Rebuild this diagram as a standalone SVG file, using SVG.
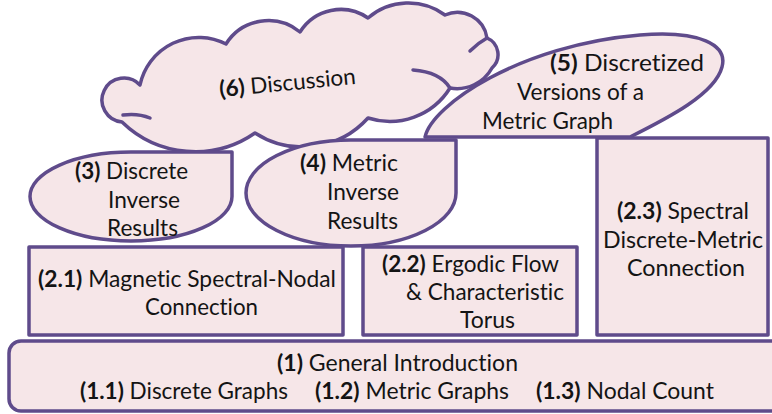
<svg xmlns="http://www.w3.org/2000/svg" width="772" height="414" viewBox="0 0 772 414">
<style>
.s{fill:#f6e6e8;stroke:#5f4b8b;stroke-width:3.5;stroke-linejoin:round}
.i{fill:none;stroke:#5f4b8b;stroke-width:3.5;stroke-linecap:round}
text{font-family:Lato,"Open Sans","Liberation Sans",sans-serif;font-size:22.5px;fill:#141414;font-variant-ligatures:none;font-feature-settings:"liga" 0,"clig" 0,"dlig" 0}
.b{font-weight:bold}
</style>
<rect width="772" height="414" fill="#ffffff"/>
<g id="connectors"></g>
<g id="n6">
<path class="s" d="M122,122 A22,22 0 1 1 140,85 A60,60 0 0 1 226,44 A50,50 0 0 1 300,32 A48,48 0 0 1 368,18 A62,62 0 0 1 445,15 A30,30 0 0 1 487,38 A18,18 0 0 1 492,68 A40,40 0 0 1 450,88 A71,71 0 0 1 368,118 A88,88 0 0 1 255,133 A105,105 0 0 1 122,122 Z"/>
<path class="i" d="M123,115 Q138,113 150,118"/>
<path class="i" d="M413,70 Q440,72 450,88"/>
<path class="i" d="M470,51 Q478,43 487,38"/>
<text transform="translate(220,97) rotate(-5.5)" textLength="137" lengthAdjust="spacingAndGlyphs"><tspan class="b">(6)</tspan> Discussion</text>
</g>
<g id="n5">
<path class="s" d="M425,137 C432,105 520,45 640,35 C700,30 728,45 722,67 C715,94 668,118 630,137 Z"/>
<text x="550" y="71" textLength="154" lengthAdjust="spacingAndGlyphs"><tspan class="b">(5)</tspan> Discretized</text>
<text x="517" y="100" textLength="127" lengthAdjust="spacingAndGlyphs">Versions of a</text>
<text x="482" y="129" textLength="131" lengthAdjust="spacingAndGlyphs">Metric Graph</text>
</g>
<g id="n3">
<path class="s" d="M30,196.5 A101,44.5 0 0 1 131,152 L232,152 L232,196.5 A101,44.5 0 0 1 131,241 A101,44.5 0 0 1 30,196.5 Z"/>
<text x="75" y="179" textLength="113" lengthAdjust="spacingAndGlyphs"><tspan class="b">(3)</tspan> Discrete</text>
<text x="108" y="208" textLength="72" lengthAdjust="spacingAndGlyphs">Inverse</text>
<text x="107" y="236" textLength="71" lengthAdjust="spacingAndGlyphs">Results</text>
</g>
<g id="n4">
<path class="s" d="M246,193 A105,53 0 0 1 351,140 L456,140 L456,193 A105,53 0 0 1 351,246 A105,53 0 0 1 246,193 Z"/>
<text x="300" y="171" textLength="98" lengthAdjust="spacingAndGlyphs"><tspan class="b">(4)</tspan> Metric</text>
<text x="327" y="200" textLength="72" lengthAdjust="spacingAndGlyphs">Inverse</text>
<text x="327" y="229" textLength="71" lengthAdjust="spacingAndGlyphs">Results</text>
</g>
<g id="n21">
<rect class="s" x="29" y="247" width="314" height="88"/>
<text x="38" y="287" textLength="298" lengthAdjust="spacingAndGlyphs"><tspan class="b">(2.1)</tspan> Magnetic Spectral-Nodal</text>
<text x="145" y="315" textLength="113" lengthAdjust="spacingAndGlyphs">Connection</text>
</g>
<g id="n22">
<rect class="s" x="363" y="247" width="214" height="88"/>
<text x="382" y="272" textLength="177" lengthAdjust="spacingAndGlyphs"><tspan class="b">(2.2)</tspan> Ergodic Flow</text>
<text x="406" y="300" textLength="158" lengthAdjust="spacingAndGlyphs">&amp; Characteristic</text>
<text x="460" y="328" textLength="55" lengthAdjust="spacingAndGlyphs">Torus</text>
</g>
<g id="n23">
<rect class="s" x="597" y="138" width="171" height="197"/>
<text x="617" y="219" textLength="132" lengthAdjust="spacingAndGlyphs"><tspan class="b">(2.3)</tspan> Spectral</text>
<text x="603" y="248" textLength="160" lengthAdjust="spacingAndGlyphs">Discrete-Metric</text>
<text x="627" y="276" textLength="118" lengthAdjust="spacingAndGlyphs">Connection</text>
</g>
<g id="n1">
<rect class="s" x="9" y="341" width="780" height="70" rx="12" ry="12"/>
<text x="277" y="371" textLength="241" lengthAdjust="spacingAndGlyphs"><tspan class="b">(1)</tspan> General Introduction</text>
<text x="80" y="399" textLength="208" lengthAdjust="spacingAndGlyphs"><tspan class="b">(1.1)</tspan> Discrete Graphs</text>
<text x="315" y="399" textLength="194" lengthAdjust="spacingAndGlyphs"><tspan class="b">(1.2)</tspan> Metric Graphs</text>
<text x="536" y="399" textLength="178" lengthAdjust="spacingAndGlyphs"><tspan class="b">(1.3)</tspan> Nodal Count</text>
</g>
</svg>
